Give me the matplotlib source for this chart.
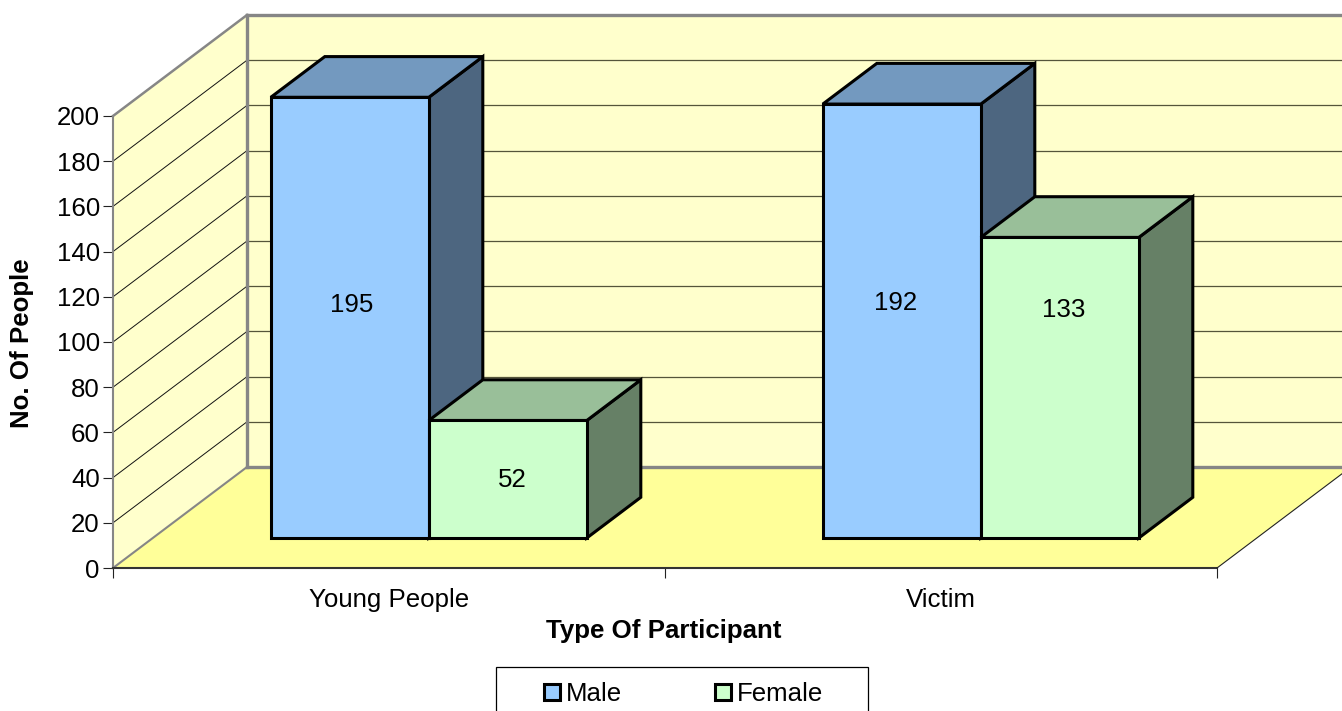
import matplotlib
matplotlib.use("Agg")
import matplotlib.pyplot as plt
from matplotlib.patches import Polygon, Patch, Rectangle

categories = ["Young People", "Victim"]
series_names = ["Male", "Female"]
male_values = [195, 192]
female_values = [52, 133]
y_ticks = list(range(0, 201, 20))
y_label = "No. Of People"
x_label = "Type Of Participant"

W, H = 1342, 711
FS = 18.6
plt.rcParams["font.family"] = ["Liberation Sans", "DejaVu Sans"]
fig = plt.figure(figsize=(W / 100, H / 100), dpi=100)
L, R, T, B = 113, 1217, 116, 568
ax = fig.add_axes([L / W, 1 - B / H, (R - L) / W, (B - T) / H])
ax.set_xlim(0, 2)
ax.set_ylim(0, 200)
ax.patch.set_visible(False)
for s in ax.spines.values():
    s.set_visible(False)

# oblique projection: depth 0..1 maps to a pixel shift converted into data units
PX_X = 2 / (R - L)
PX_Y = 200 / (B - T)
DX = 134 * PX_X
DY = 101 * PX_Y


def P(x, y, d):
    return (x + DX * d, y + DY * d)


def poly(pts, fc, ec="none", lw=0, z=1):
    ax.add_patch(Polygon(pts, closed=True, facecolor=fc, edgecolor=ec, linewidth=lw,
                         joinstyle="miter", clip_on=False, zorder=z))


def line(a, b, color, lw, z=2):
    ax.plot([a[0], b[0]], [a[1], b[1]], color=color, lw=lw, clip_on=False,
            solid_capstyle="projecting", zorder=z)


WALL = "#FFFFCC"
FLOOR = "#FFFF99"
GRAY = "#868686"
poly([P(0, 0, 1), P(2, 0, 1), P(2, 200, 1), P(0, 200, 1)], WALL)
poly([P(0, 0, 0), P(0, 200, 0), P(0, 200, 1), P(0, 0, 1)], WALL)
poly([P(0, 0, 0), P(2, 0, 0), P(2, 0, 1), P(0, 0, 1)], FLOOR)
for v in y_ticks[1:-1] + [200]:
    if v < 200:
        line(P(0, v, 0), P(0, v, 1), "#111111", 0.7)
    line(P(0, v, 1), P(2, v, 1), "#55553A", 0.9)
line(P(0, 200, 1), P(2, 200, 1), GRAY, 2.4, 3)
line(P(0, 0, 1), P(2, 0, 1), GRAY, 2.4, 3)
line(P(0, 0, 1), P(0, 200, 1), GRAY, 2.4, 3)
line(P(0, 0, 0), P(0, 0, 1), GRAY, 1.5, 3)
line(P(0, 200, 0), P(0, 200, 1), GRAY, 1.8, 3)
line(P(0, 0, 0), P(0, 200, 0), GRAY, 1.5, 3)
line(P(0, 0, 0), P(2, 0, 0), "#333333", 1.5, 3)
line(P(2, 0, 0), P(2, 0, 1), "#222222", 0.8, 3)

BAR_W = 158 * PX_X
GAP = 118 * PX_X
D0, D1 = 30 / 101, 0.70
LW = 2.2
colors = [("#99CCFF", "#7399BF", "#4D6680"), ("#CCFFCC", "#99BF99", "#668066")]
# where each data label sits relative to its bar, as placed in the original
label_heights = [[103.2, 104.1], [25.7, 101.0]]
label_shift_px = [[1.5, -6], [4.5, 4]]
series = [male_values, female_values]
for c in range(len(categories)):
    for s, vals in enumerate(series):
        x0 = c + GAP + s * BAR_W
        x1 = x0 + BAR_W
        v = vals[c]
        front, top, side = colors[s]
        z = 10 + c * 10 + s * 3
        poly([P(x1, 0, D0), P(x1, 0, D1), P(x1, v, D1), P(x1, v, D0)], side, "black", LW, z)
        poly([P(x0, v, D0), P(x1, v, D0), P(x1, v, D1), P(x0, v, D1)], top, "black", LW, z + 1)
        poly([P(x0, 0, D0), P(x1, 0, D0), P(x1, v, D0), P(x0, v, D0)], front, "black", LW, z + 2)
        lx, ly = P((x0 + x1) / 2 + label_shift_px[s][c] * PX_X, label_heights[s][c], D0)
        ax.text(lx, ly, str(v), ha="center", va="center", fontsize=FS, color="black", zorder=50)

ax.set_yticks(y_ticks)
ax.set_xticks([0, 1, 2])
ax.set_xticklabels([])
ax.set_xticks([0.5, 1.5], labels=categories, minor=True)
ax.tick_params(axis="y", length=7.5, width=0.8, color="#222222", pad=2, labelsize=FS)
ax.tick_params(axis="x", which="major", length=7.5, width=0.8, color="#222222")
ax.tick_params(axis="x", which="minor", length=0, pad=14.3, labelsize=FS)

fig.text(664 / W, 1 - 631 / H, x_label, ha="center", va="center", fontsize=FS, fontweight="bold")
fig.text(22.5 / W, 1 - 343 / H, y_label, ha="center", va="center", rotation=90, fontsize=FS, fontweight="bold")

# legend frame runs past the bottom edge of the figure, as in the original
fig.add_artist(Rectangle((496 / W, -0.02), (868 - 496) / W, 1 - 667 / H + 0.02, transform=fig.transFigure,
                         facecolor="white", edgecolor="black", linewidth=0.9, clip_on=True))
handles = [Patch(facecolor=colors[i][0], edgecolor="black", linewidth=2.2) for i in range(2)]
leg = fig.legend(handles, series_names, loc="upper left", bbox_to_anchor=(544 / W, 1 - 682 / H),
                 bbox_transform=fig.transFigure, ncol=2, fontsize=FS, frameon=False,
                 borderaxespad=0, borderpad=0,
                 handlelength=0.6, handleheight=0.6, handletextpad=0.25, columnspacing=3.6)
leg.set_zorder(10)

fig.savefig("out.png", dpi=100)
